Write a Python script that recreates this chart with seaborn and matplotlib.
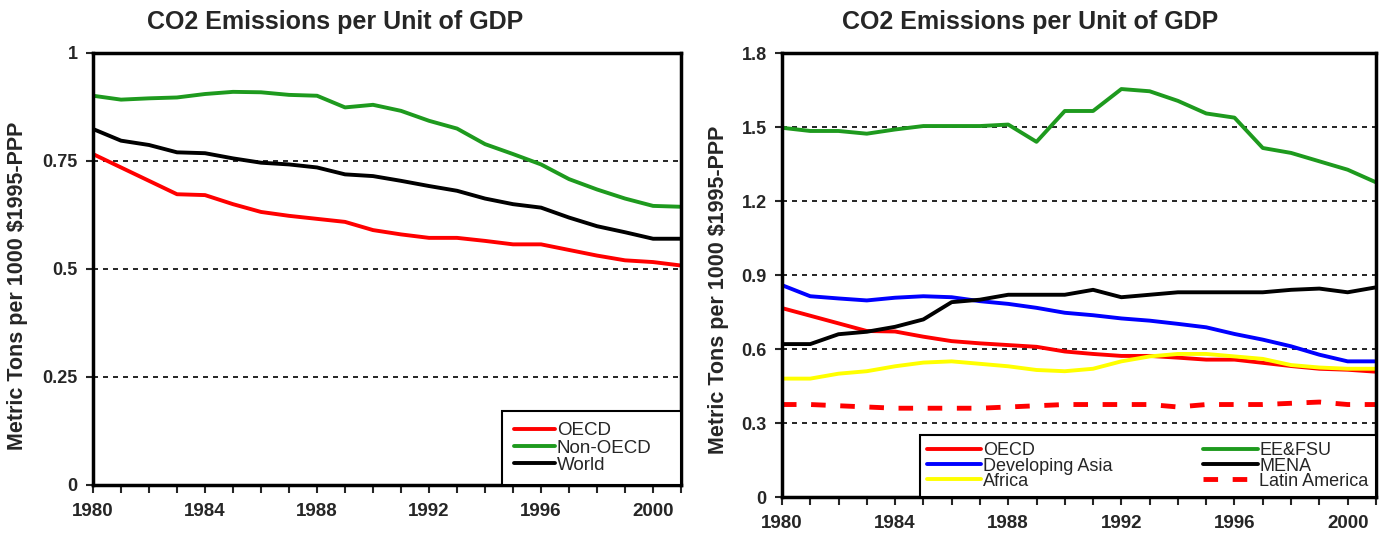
import pandas as pd
import matplotlib
matplotlib.use("Agg")
import matplotlib.pyplot as plt
import seaborn as sns

# Years on the x axis
years = list(range(1980, 2002))
year_labels = ["1980", "1984", "1988", "1992", "1996", "2000"]

# Left chart series (metric tons per 1000 $1995-PPP)
oecd = [0.766, 0.735, 0.704, 0.673, 0.671, 0.650, 0.632, 0.623, 0.616, 0.609, 0.590,
        0.580, 0.572, 0.572, 0.565, 0.557, 0.557, 0.544, 0.531, 0.520, 0.516, 0.508]
non_oecd = [0.901, 0.892, 0.895, 0.897, 0.905, 0.910, 0.909, 0.903, 0.901, 0.874, 0.880,
            0.866, 0.843, 0.825, 0.789, 0.766, 0.742, 0.708, 0.684, 0.663, 0.646, 0.644]
world = [0.824, 0.797, 0.787, 0.770, 0.768, 0.756, 0.746, 0.742, 0.735, 0.719, 0.715,
         0.704, 0.692, 0.681, 0.663, 0.650, 0.642, 0.619, 0.599, 0.585, 0.570, 0.570]

# Right chart series
ee_fsu = [1.497, 1.484, 1.484, 1.473, 1.490, 1.504, 1.504, 1.504, 1.510, 1.440, 1.565,
          1.565, 1.654, 1.645, 1.606, 1.555, 1.538, 1.415, 1.395, 1.361, 1.327, 1.276]
dev_asia = [0.859, 0.814, 0.805, 0.797, 0.808, 0.814, 0.810, 0.794, 0.783, 0.767, 0.747,
            0.737, 0.724, 0.715, 0.702, 0.688, 0.661, 0.638, 0.611, 0.577, 0.550, 0.550]
mena = [0.620, 0.620, 0.660, 0.670, 0.690, 0.720, 0.790, 0.800, 0.820, 0.820, 0.820,
        0.840, 0.810, 0.820, 0.830, 0.830, 0.830, 0.830, 0.840, 0.845, 0.830, 0.850]
africa = [0.480, 0.480, 0.500, 0.510, 0.530, 0.545, 0.550, 0.540, 0.530, 0.515, 0.510,
          0.520, 0.550, 0.570, 0.580, 0.580, 0.570, 0.560, 0.535, 0.525, 0.520, 0.520]
latin_am = [0.375, 0.375, 0.370, 0.365, 0.360, 0.360, 0.360, 0.360, 0.365, 0.370, 0.375,
            0.375, 0.375, 0.375, 0.365, 0.375, 0.375, 0.375, 0.380, 0.385, 0.375, 0.375]

left_yticks = [0, 0.25, 0.5, 0.75, 1.0]
left_ylabels = ["0", "0.25", "0.5", "0.75", "1"]
right_yticks = [0, 0.3, 0.6, 0.9, 1.2, 1.5, 1.8]
right_ylabels = ["0", "0.3", "0.6", "0.9", "1.2", "1.5", "1.8"]

title = "CO2 Emissions per Unit of GDP"
ylabel = "Metric Tons per 1000 $1995-PPP"

RED, GREEN, BLUE, YELLOW = "#ff0000", "#1e9a1e", "#0000ff", "#ffff00"

sns.set_style("white")
plt.rcParams['font.family'] = ['Liberation Sans', 'DejaVu Sans']

fig = plt.figure(figsize=(13.82, 5.4), dpi=100)
ax1 = fig.add_axes([0.0673, 0.1019, 0.4255, 0.8])
ax2 = fig.add_axes([0.5658, 0.0796, 0.4298, 0.8222])


def style_axes(ax, yticks, ylabels):
    ax.set_xlim(1980, 2001)
    ax.set_ylim(yticks[0], yticks[-1])
    ax.set_xticks(years, minor=True)
    ax.set_xticks([int(y) for y in year_labels], year_labels, fontweight="bold")
    ax.set_yticks(yticks, ylabels, fontweight="bold")
    for s in ax.spines.values():
        s.set_color("black")
        s.set_linewidth(2.5)
    ax.tick_params(axis="x", which="both", direction="out", length=6, width=1.5,
                   bottom=True, labelsize=13.5, pad=7)
    ax.tick_params(axis="y", which="major", direction="out", length=5, width=1.5,
                   left=True, labelsize=13, pad=6)
    # dashed gridlines
    for k in yticks[1:-1]:
        ax.axhline(k, color="black", lw=1.2, ls=(0, (3, 3)), zorder=0)
    ax.set_xlabel("")
    ax.set_ylabel("")


# ---- Left chart
sns.lineplot(x=years, y=oecd, color=RED, lw=2.8, ax=ax1, label="OECD")
sns.lineplot(x=years, y=non_oecd, color=GREEN, lw=2.8, ax=ax1, label="Non-OECD")
sns.lineplot(x=years, y=world, color="black", lw=2.8, ax=ax1, label="World")
style_axes(ax1, left_yticks, left_ylabels)
leg1 = ax1.legend(loc="lower left", bbox_to_anchor=(0.696, 0, 0.304, 0.2), mode="expand",
                  borderaxespad=0, fancybox=False, framealpha=1,
                  edgecolor="black", fontsize=13.5, handlelength=2.2, handletextpad=0.1,
                  labelspacing=0.0, borderpad=0.6)
leg1.get_frame().set_linewidth(1.5)

# ---- Right chart
sns.lineplot(x=years, y=oecd, color=RED, lw=2.8, ax=ax2, label="OECD")
sns.lineplot(x=years, y=dev_asia, color=BLUE, lw=2.8, ax=ax2, label="Developing Asia")
sns.lineplot(x=years, y=africa, color=YELLOW, lw=2.8, ax=ax2, label="Africa")
sns.lineplot(x=years, y=ee_fsu, color=GREEN, lw=2.8, ax=ax2, label="EE&FSU")
sns.lineplot(x=years, y=mena, color="black", lw=2.8, ax=ax2, label="MENA")
sns.lineplot(x=years, y=latin_am, color=RED, lw=3.5, ls=(0, (3, 3)), ax=ax2, label="Latin America")
style_axes(ax2, right_yticks, right_ylabels)
leg2 = ax2.legend(loc="lower left", bbox_to_anchor=(0.232, 0, 0.768, 0.16), mode="expand",
                  borderaxespad=0, fancybox=False, framealpha=1,
                  edgecolor="black", fontsize=13, ncol=2, handlelength=3.0,
                  handletextpad=0.1, labelspacing=-0.1, borderpad=0.4)
leg2.get_frame().set_linewidth(1.5)

# titles and y labels
fig.text(335 / 1382, 1 - 22 / 540, title, ha="center", va="center",
         fontsize=18, fontweight="bold")
fig.text(1030 / 1382, 1 - 22 / 540, title, ha="center", va="center",
         fontsize=18, fontweight="bold")
fig.text(18 / 1382, 1 - 286 / 540, ylabel, ha="center", va="center", rotation=90,
         fontsize=15.5, fontweight="bold")
fig.text(718 / 1382, 1 - 290 / 540, ylabel, ha="center", va="center", rotation=90,
         fontsize=15.5, fontweight="bold")

fig.savefig("out.png", dpi=100, facecolor="white")
